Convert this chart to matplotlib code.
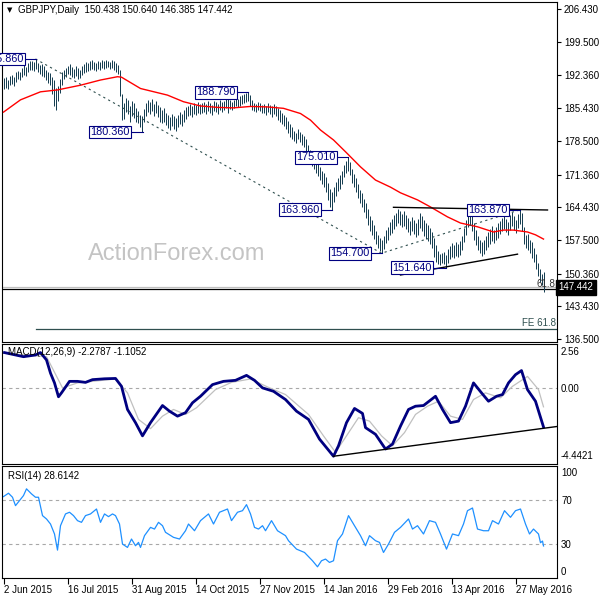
import matplotlib
matplotlib.use("Agg")
import matplotlib.pyplot as plt
import matplotlib.transforms as mtransforms

plt.rcParams['font.family'] = ['Liberation Sans', 'DejaVu Sans']

# ---------------- data ----------------
HIGH = [
 191.8, 192.0, 191.5, 192.2, 192.5, 192.0, 193.0, 193.4, 193.2, 194.0,
 194.5, 194.2, 195.0, 195.4, 195.4, 195.2, 195.86, 195.0, 194.6, 194.8,
 194.3, 193.6, 193.0, 192.8, 192.0, 191.4, 189.8, 190.2, 191.6, 193.0,
 193.6, 194.0, 194.4, 194.8, 194.2, 193.8, 194.3, 194.0, 193.6, 194.4,
 194.8, 195.2, 195.0, 195.4, 195.6, 195.2, 195.0, 195.5, 195.3, 195.6,
 195.4, 195.7, 195.5, 195.3, 195.6, 195.4, 195.0, 194.6, 193.5, 188.5,
 186.5, 187.6, 187.2, 186.0, 187.0, 186.6, 185.4, 184.8, 184.0, 183.8,
 185.2, 186.6, 187.2, 186.8, 187.4, 186.4, 187.0, 186.2, 185.6, 185.0,
 185.4, 184.4, 184.0, 183.6, 184.2, 183.8, 183.4, 184.0, 184.6, 184.2,
 185.0, 185.6, 186.0, 186.4, 186.0, 186.6, 186.2, 186.8, 186.4, 186.6,
 186.8, 186.4, 187.0, 186.6, 186.2, 187.0, 186.8, 186.4, 187.2, 186.8,
 187.0, 187.4, 188.0, 187.2, 186.8, 187.2, 187.6, 187.4, 188.0, 188.2,
 188.4, 188.6, 188.79, 188.2, 187.2, 186.6, 186.4, 186.8, 186.6, 186.2,
 186.4, 186.0, 186.6, 186.2, 185.8, 186.4, 186.0, 185.4, 185.0, 184.4,
 184.0, 183.6, 182.8, 182.0, 181.4, 180.6, 180.2, 181.0, 180.4, 180.0,
 179.6, 179.0, 177.6, 176.6, 176.0, 175.4, 174.6, 173.8, 173.0, 172.2,
 171.6, 170.8, 169.6, 168.4, 167.6, 168.8, 169.8, 170.6, 171.2, 172.2,
 173.4, 174.2, 175.01, 174.0, 172.6, 171.4, 170.6, 169.4, 168.2, 167.4,
 166.2, 165.4, 164.0, 162.6, 161.8, 160.6, 159.4, 158.6, 158.0, 157.6,
 158.4, 159.6, 160.2, 161.4, 162.0, 162.8, 163.2, 164.0, 163.6, 163.0,
 163.6, 162.8, 162.2, 161.6, 162.4, 161.8, 161.2, 162.0, 163.2, 162.6,
 161.8, 161.2, 160.6, 160.0, 159.2, 158.0, 156.4, 155.2, 154.6, 154.8,
 155.0, 154.4, 155.6, 156.2, 156.8, 156.4, 157.0, 156.6, 157.2, 158.4,
 160.0, 161.8, 163.2, 163.4, 162.6, 161.0, 159.6, 158.4, 157.6, 157.0,
 157.6, 158.4, 159.2, 159.8, 160.4, 159.6, 160.2, 161.0, 161.6, 162.2,
 162.6, 162.0, 161.4, 162.8, 163.4, 162.6, 161.8, 163.0, 163.87, 163.2,
 160.2, 158.6, 158.8, 157.6, 157.0, 155.8, 154.6, 152.6, 151.4, 150.2, 150.64]

LOW = [
 189.4, 189.8, 189.6, 190.3, 190.6, 190.2, 191.0, 191.6, 191.4, 192.0,
 192.4, 192.2, 193.0, 193.6, 193.6, 193.4, 193.7, 193.0, 192.6, 192.3,
 192.0, 191.4, 190.8, 190.4, 188.5, 186.0, 185.1, 187.0, 188.6, 190.4,
 191.6, 192.0, 192.6, 192.4, 192.0, 191.8, 192.2, 191.6, 191.8, 192.4,
 192.8, 193.2, 193.4, 193.6, 193.8, 193.5, 193.4, 193.8, 193.6, 194.0,
 193.8, 194.0, 194.2, 193.8, 194.0, 193.6, 193.0, 192.6, 188.0, 183.0,
 183.2, 184.6, 184.2, 182.6, 183.8, 183.4, 182.4, 182.2, 181.4, 180.36,
 182.6, 183.8, 184.6, 184.2, 184.8, 183.8, 184.4, 183.6, 182.6, 182.2,
 182.4, 181.8, 181.2, 180.8, 181.6, 181.0, 180.6, 181.4, 182.0, 181.6,
 182.6, 183.2, 183.8, 184.0, 183.6, 184.2, 184.0, 184.4, 184.2, 184.4,
 184.6, 184.2, 184.8, 184.4, 184.0, 184.8, 184.6, 184.2, 185.0, 184.6,
 185.0, 185.4, 184.4, 185.2, 185.0, 185.4, 185.8, 185.6, 186.0, 186.4,
 186.6, 186.8, 187.0, 186.0, 185.0, 184.8, 184.6, 185.0, 184.8, 184.4,
 184.4, 184.0, 184.6, 184.2, 183.6, 184.2, 183.8, 183.0, 182.6, 182.0,
 181.6, 181.0, 180.2, 179.4, 178.8, 178.4, 178.0, 178.8, 178.2, 177.6,
 177.2, 176.4, 175.0, 174.2, 173.2, 172.6, 171.8, 171.0, 170.2, 169.4,
 168.8, 167.6, 166.0, 164.6, 163.96, 165.6, 166.8, 167.8, 168.4, 169.4,
 170.8, 171.6, 172.2, 171.2, 169.6, 168.8, 167.6, 166.4, 165.4, 164.6,
 163.4, 162.2, 160.6, 159.4, 158.6, 157.8, 156.6, 155.8, 155.2, 154.70,
 155.6, 156.8, 157.4, 158.6, 159.0, 159.8, 160.4, 161.0, 160.6, 160.2,
 160.4, 159.8, 159.2, 158.6, 159.4, 158.8, 158.2, 158.6, 160.0, 159.4,
 158.4, 157.8, 157.2, 156.6, 155.8, 154.0, 152.8, 152.4, 152.2, 152.6,
 152.4, 151.64, 152.6, 153.4, 154.0, 153.6, 154.2, 153.8, 154.4, 155.4,
 157.0, 158.6, 160.2, 160.6, 159.4, 157.6, 156.4, 155.4, 154.8, 154.2,
 154.6, 155.4, 156.0, 156.6, 157.2, 156.8, 157.4, 158.0, 158.8, 159.4,
 159.8, 159.2, 158.6, 159.6, 160.4, 159.6, 159.0, 160.0, 160.8, 159.4,
 156.6, 155.8, 155.4, 154.8, 153.6, 152.8, 151.4, 149.8, 148.6, 148.0, 146.385]

# 55-day moving average (bar index, value)
SMA_X = [0, 8.5, 18.5, 27, 38.5, 48.5, 57, 59, 68.5, 82, 90, 98.5, 107, 115, 123.5,
         132, 140, 148.5, 153.5, 158.5, 165, 171, 178.5, 186, 193.5, 198.5, 207,
         213.5, 222, 228.5, 237, 245, 250, 255, 262, 266, 270]
SMA_Y = [184.6, 187.2, 188.9, 189.3, 190.3, 191.4, 192.1, 192.0, 189.6, 188.2, 186.8,
         185.9, 185.6, 185.5, 185.8, 185.7, 185.4, 184.3, 182.9, 180.8, 178.7, 176.2,
         173.0, 170.2, 168.7, 167.5, 166.0, 164.5, 162.4, 161.1, 160.3, 159.2, 159.6,
         159.6, 159.2, 158.6, 157.7]

MACD_X = [0.5, 6, 10, 16, 18.5, 21.5, 23.5, 25.5, 27.5, 29, 33, 37, 41, 44.5, 50.5, 56,
          59, 62, 66, 69.5, 73.5, 79.5, 83, 87, 91, 94.5, 98.5, 104.5, 110, 116, 121.5,
          125.5, 129.5, 135, 141, 146.5, 152.5, 158, 165, 167.5, 171.5, 175.5, 179.5,
          181, 186, 191, 194.5, 198.5, 202.5, 206, 210, 216, 219.5, 223.5, 227.5, 231,
          235, 239, 242.5, 246.5, 249.5, 252.5, 256, 259, 262, 266, 270]
MACD_Y = [2.06, 1.92, 1.82, 1.92, 2.06, 1.63, 0.86, 0.29, -0.52, -0.29, 0.38, 0.38, 0.32,
          0.48, 0.53, 0.55, 0.09, -1.26, -2.03, -2.80, -2.03, -1.03, -1.36, -1.65, -1.45,
          -0.87, -0.49, 0.19, 0.38, 0.44, 0.73, 0.44, 0.00, -0.20, -0.68, -1.36, -1.84,
          -2.99, -3.99, -3.38, -2.03, -1.20, -1.49, -2.32, -2.71, -3.57, -3.28, -2.23,
          -1.26, -1.07, -1.03, -0.49, -1.26, -2.03, -1.94, -1.07, 0.29, -0.29, -0.78,
          -0.49, -0.39, 0.29, 0.77, 1.01, -0.10, -0.78, -2.2787]

SIG_X = [0, 21.5, 29.5, 37, 56, 62, 67.5, 73.5, 79.5, 85, 91, 96.5, 106, 114, 123.5, 133,
         141, 152.5, 160, 166, 171.5, 177.5, 183, 189, 194.5, 200.5, 206, 212, 217.5,
         223.5, 229.5, 235, 241, 248.5, 254.5, 262, 267.5, 270]
SIG_Y = [2.02, 1.82, 0.00, 0.29, 0.52, -0.29, -1.84, -2.38, -1.65, -1.26, -1.55, -1.16,
         -0.10, 0.32, 0.52, 0.00, -0.39, -1.55, -2.80, -3.76, -2.80, -1.74, -1.94, -2.80,
         -3.38, -2.61, -1.55, -1.07, -0.78, -1.65, -1.84, -0.68, -0.29, -0.58, 0.09, 0.67,
         -0.10, -1.1052]

RSI_X = [0, 2.5, 4.5, 6, 8, 10, 11.5, 14, 16, 17.5, 19.5, 21.5, 23.5, 25.5, 27, 28.5, 31,
         33, 35, 37, 39, 41, 43.5, 46.5, 48.5, 50.5, 52.5, 54.5, 56, 58, 59.5, 62, 64, 66,
         67.5, 68.5, 70.5, 73.5, 75.5, 77.5, 79.5, 81, 85, 88, 91, 92.5, 95.5, 98.5, 102.5,
         105, 108, 112, 114, 117, 119.5, 121.5, 123.5, 125.5, 127.5, 129.5, 131, 134, 137,
         141, 142.5, 146.5, 150.5, 154.5, 157, 159, 161, 163, 165, 167, 169.5, 172.5,
         175.5, 178.5, 181, 183, 186, 188, 190, 192.5, 195.5, 198.5, 202.5, 204.5, 207,
         210, 213, 216, 218.5, 221.5, 224.5, 227.5, 230, 232, 234.5, 237, 240, 242.5,
         244.5, 247.5, 250.5, 253.5, 256, 258.5, 261, 263, 265, 267.5, 268.5, 269.5, 270]
RSI_Y = [72.7, 75.7, 72.1, 64.6, 69.1, 73.6, 79.6, 75.1, 72.1, 72.1, 55.7, 52.7, 48.2,
         39.3, 24.9, 46.7, 57.2, 58.7, 55.7, 51.2, 49.7, 55.7, 57.2, 61.6, 49.7, 57.2, 54.8,
         57.2, 55.7, 48.2, 30.3, 27.3, 34.8, 28.8, 31.8, 27.3, 37.8, 45.2, 43.7, 49.7, 46.7,
         40.8, 36.3, 34.8, 42.2, 48.2, 42.2, 51.2, 57.2, 48.2, 58.7, 61.6, 51.2, 58.7, 60.1,
         65.5, 57.2, 45.2, 43.7, 46.7, 42.2, 51.2, 42.2, 37.8, 33.3, 25.8, 22.8, 15.4, 10.0,
         15.4, 16.9, 13.9, 15.4, 33.3, 39.3, 55.7, 46.7, 37.8, 28.8, 37.8, 33.3, 31.8, 22.8,
         30.3, 40.8, 45.2, 52.7, 43.7, 46.7, 39.3, 51.2, 49.7, 39.3, 25.8, 39.3, 37.8, 48.2,
         60.1, 62.5, 43.7, 42.2, 42.2, 51.2, 48.2, 60.1, 54.2, 60.1, 61.6, 48.2, 39.3, 43.7,
         39.3, 31.5, 33.0, 28.6142]

DATE_IDX = [0, 32, 64, 96, 128, 160, 192, 224, 256]
DATE_LBL = ['2 Jun 2015', '16 Jul 2015', '31 Aug 2015', '14 Oct 2015', '27 Nov 2015',
            '14 Jan 2016', '29 Feb 2016', '13 Apr 2016', '27 May 2016']
PRICE_TICKS = [206.43, 199.5, 192.36, 185.43, 178.5, 171.36, 164.43, 157.5, 150.36, 143.43, 136.5]

# swing labels: (text, label right-edge bar idx, bar idx, price)
SWINGS = [("195.860", 10.2, 16, 195.86), ("180.360", 63.2, 69.5, 180.36),
          ("188.790", 116.2, 122, 188.79), ("175.010", 166.2, 172, 175.01),
          ("163.960", 158.0, 164, 163.96), ("154.700", 183.2, 189, 154.70),
          ("151.640", 214.2, 221, 151.64), ("163.870", 252.2, 258, 163.87)]
FE_PTS_X = [16, 189, 258]          # A, B, C of Fibonacci expansion
FE_PTS_Y = [195.86, 154.70, 163.87]
FE618 = 138.58
RET618 = 147.03
BID = 147.442
RES_X, RES_Y = [195, 272], [164.43, 163.86]
SUP_X, SUP_Y = [198.5, 257], [150.09, 154.5]
MACD_TL_X, MACD_TL_Y = [165, 277], [-3.99, -2.25]

# ---------------- figure ----------------
W = H = 600
fig = plt.figure(figsize=(6, 6), dpi=100)
fig.patch.set_facecolor('white')

def ax_rect(top, bottom, left=2, right=557):
    return [left / W, 1 - bottom / H, (right - left) / W, (bottom - top) / H]

ax = fig.add_axes(ax_rect(2, 342))
axm = fig.add_axes(ax_rect(344, 464))
axr = fig.add_axes(ax_rect(466, 578))

XL = (-0.75, 276.75)
BAR_C = '#173f52'
NAVY = '#000080'
FS = 7

for a in (ax, axm, axr):
    a.set_xlim(*XL)
    for s in a.spines.values():
        s.set_linewidth(0.8)
        s.set_color('black')
    a.set_facecolor('white')
    a.tick_params(axis='x', bottom=False, labelbottom=False)
    a.tick_params(axis='y', left=False, labelleft=False, right=False, labelright=False)

# ---- main ----
ax.set_ylim(135.89, 207.93)
idx = list(range(len(HIGH)))
ax.vlines(idx, LOW, HIGH, color=BAR_C, lw=0.72, zorder=3)
ax.plot(SMA_X, SMA_Y, color='#ff0000', lw=1.0, zorder=4)

ax.text(86.5, 154.5, 'ActionForex.com', fontsize=17, color='#c4c4c4',
        ha='center', va='center', zorder=0)

ax.plot(FE_PTS_X, FE_PTS_Y, color='#2f4f4f', lw=0.8, ls=(0, (2, 3)), zorder=5)
ax.plot([16, XL[1]], [FE618, FE618], color='#2f4f4f', lw=0.9, zorder=2)
ax.text(276, FE618 + 1.3, 'FE 61.8', fontsize=FS, color='#2f4f4f', ha='right', va='center')
ax.axhline(BID, color='#c0c0c0', lw=0.9, zorder=2)
ax.axhline(RET618, color='black', lw=0.9, zorder=2)
ax.text(276, RET618 + 1.15, '61.8', fontsize=FS, color='#2f2f2f', ha='right', va='center')
ax.plot(RES_X, RES_Y, color='black', lw=1.0, zorder=5)
ax.plot(SUP_X, SUP_Y, color='black', lw=1.0, zorder=5)

for txt, xr, xb, p in SWINGS:
    ax.plot([xr + 0.8, xb], [p, p], color=NAVY, lw=0.8, zorder=6)
    ax.text(xr, p, txt, fontsize=7.8, color=NAVY, ha='right', va='center', zorder=7,
            bbox=dict(boxstyle='square,pad=0.12', fc='white', ec=NAVY, lw=0.8))

ax.set_yticks(PRICE_TICKS)
ax.set_yticklabels([f'{v:.3f}' for v in PRICE_TICKS])
ax.tick_params(axis='y', right=True, labelright=True, length=3, width=0.8,
               pad=2, labelsize=FS, direction='out')

trans_main = mtransforms.blended_transform_factory(ax.transAxes, ax.transData)
ax.text(1.0025, BID, '147.442', transform=trans_main, fontsize=FS, color='white',
        ha='left', va='center', clip_on=False, zorder=10,
        bbox=dict(boxstyle='square,pad=0.25', fc='black', ec='black'))

fig.text(7 / W, 1 - 10 / H, '\u25bc', fontsize=5, color='black', va='center',
         family=['DejaVu Sans'])
fig.text(18 / W, 1 - 10 / H, 'GBPJPY,Daily  150.438 150.640 146.385 147.442',
         fontsize=FS, color='black', va='center')

# ---- MACD ----
axm.set_ylim(-4.4421, 2.56)
axm.axhline(0, color='#a8a8a8', lw=0.8, ls=(0, (3, 3)))
axm.plot(SIG_X, SIG_Y, color='#c0c0c0', lw=0.9)
axm.plot(MACD_X, MACD_Y, color=NAVY, lw=2.0)
axm.plot(MACD_TL_X, MACD_TL_Y, color='black', lw=1.0)
fig.text(8 / W, 1 - 352 / H, 'MACD(12,26,9) -2.2787 -1.1052', fontsize=FS,
         color='black', va='center')
for lab, yy in (('2.56', 352), ('0.00', 389), ('-4.4421', 456)):
    fig.text(561 / W, 1 - yy / H, lab, fontsize=FS, color='black', va='center')

# ---- RSI ----
axr.set_ylim(0, 100)
axr.axhline(70, color='#a8a8a8', lw=0.8, ls=(0, (3, 3)))
axr.axhline(30, color='#a8a8a8', lw=0.8, ls=(0, (3, 3)))
axr.plot(RSI_X, RSI_Y, color='#1e90ff', lw=0.9)
fig.text(8 / W, 1 - 476 / H, 'RSI(14) 28.6142', fontsize=FS, color='black', va='center')
for lab, yy in (('100', 473), ('70', 501), ('30', 545), ('0', 572)):
    fig.text(561 / W, 1 - yy / H, lab, fontsize=FS, color='black', va='center')

axr.set_xticks(DATE_IDX)
axr.set_xticklabels(DATE_LBL, ha='left', fontsize=FS)
axr.tick_params(axis='x', bottom=True, labelbottom=True, length=4, width=0.8, pad=1)

fig.savefig('out.png', dpi=100)
